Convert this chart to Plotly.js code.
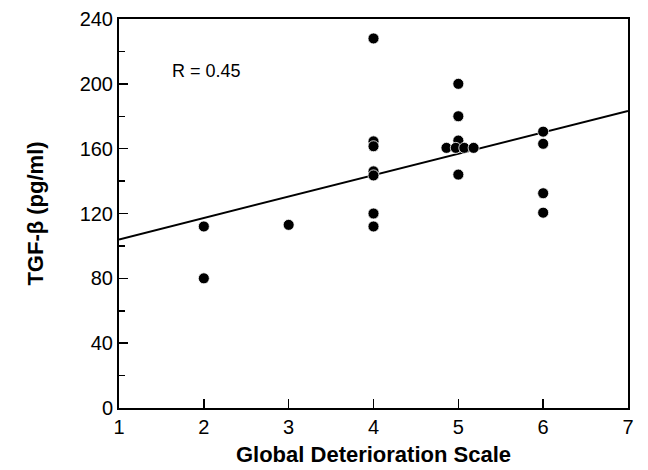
<!DOCTYPE html>
<html>
<head>
<meta charset="utf-8">
<script src="https://cdn.plot.ly/plotly-3.0.1.min.js"></script>
<style>html,body{margin:0;padding:0;background:#fff;}#chart{width:648px;height:470px;}</style>
</head>
<body>
<div id="chart"></div>
<script>
// Data
const gds = [2, 2, 3, 4, 4, 4, 4, 4, 4, 4, 5, 5, 5, 4.86, 4.97, 5.07, 5.18, 5, 6, 6, 6, 6];
const tgfb = [112, 80, 113, 228, 164.5, 161.5, 146, 143.5, 120, 112, 200, 180, 165, 160.5, 160.5, 160.5, 160.5, 144, 170.5, 163, 132.5, 120.5];
const fitX = [1, 7];
const fitY = [104, 183.3];
const xTicks = [1, 2, 3, 4, 5, 6, 7];
const yTicks = [0, 40, 80, 120, 160, 200, 240];
const annotationText = "R = 0.45";

const font = "'Liberation Sans', Arial, Helvetica, sans-serif";

const traces = [
  {
    x: fitX, y: fitY, mode: "lines", type: "scatter",
    line: {color: "#000", width: 2}, hoverinfo: "skip", showlegend: false
  },
  {
    x: gds, y: tgfb, mode: "markers", type: "scatter",
    marker: {color: "#000", size: 11, line: {color: "#fff", width: 0.8}},
    showlegend: false
  }
];

const layout = {
  width: 648, height: 470,
  margin: {l: 119, r: 20, t: 19, b: 62},
  paper_bgcolor: "#fff", plot_bgcolor: "#fff",
  font: {family: font, color: "#000", size: 20},
  xaxis: {
    range: [1, 7], tickvals: xTicks, ticktext: xTicks.map(String),
    ticks: "inside", ticklen: 9, tickwidth: 1.5, tickcolor: "#000",
    showline: true, linecolor: "#000", linewidth: 2, mirror: true,
    showgrid: false, zeroline: false,
    tickfont: {family: font, size: 20},
    title: {text: "<b>Global Deterioration Scale</b>", font: {family: font, size: 22}, standoff: 10}
  },
  yaxis: {
    range: [0, 240], tickvals: yTicks, ticktext: yTicks.map(String),
    ticks: "inside", ticklen: 9, tickwidth: 1.5, tickcolor: "#000",
    minor: {dtick: 20, ticks: "inside", ticklen: 6, tickwidth: 1.5, tickcolor: "#000", showgrid: false},
    showline: true, linecolor: "#000", linewidth: 2, mirror: true,
    showgrid: false, zeroline: false,
    tickfont: {family: font, size: 20},
    title: {text: "<b>TGF-β (pg/ml)</b>", font: {family: font, size: 22}, standoff: 30}
  },
  annotations: [{
    x: 1.6, y: 208, xref: "x", yref: "y", text: annotationText,
    showarrow: false, xanchor: "left", yanchor: "middle",
    font: {family: font, size: 18, color: "#000"}
  }]
};

Plotly.newPlot("chart", traces, layout, {displayModeBar: false, staticPlot: true});
</script>
</body>
</html>
